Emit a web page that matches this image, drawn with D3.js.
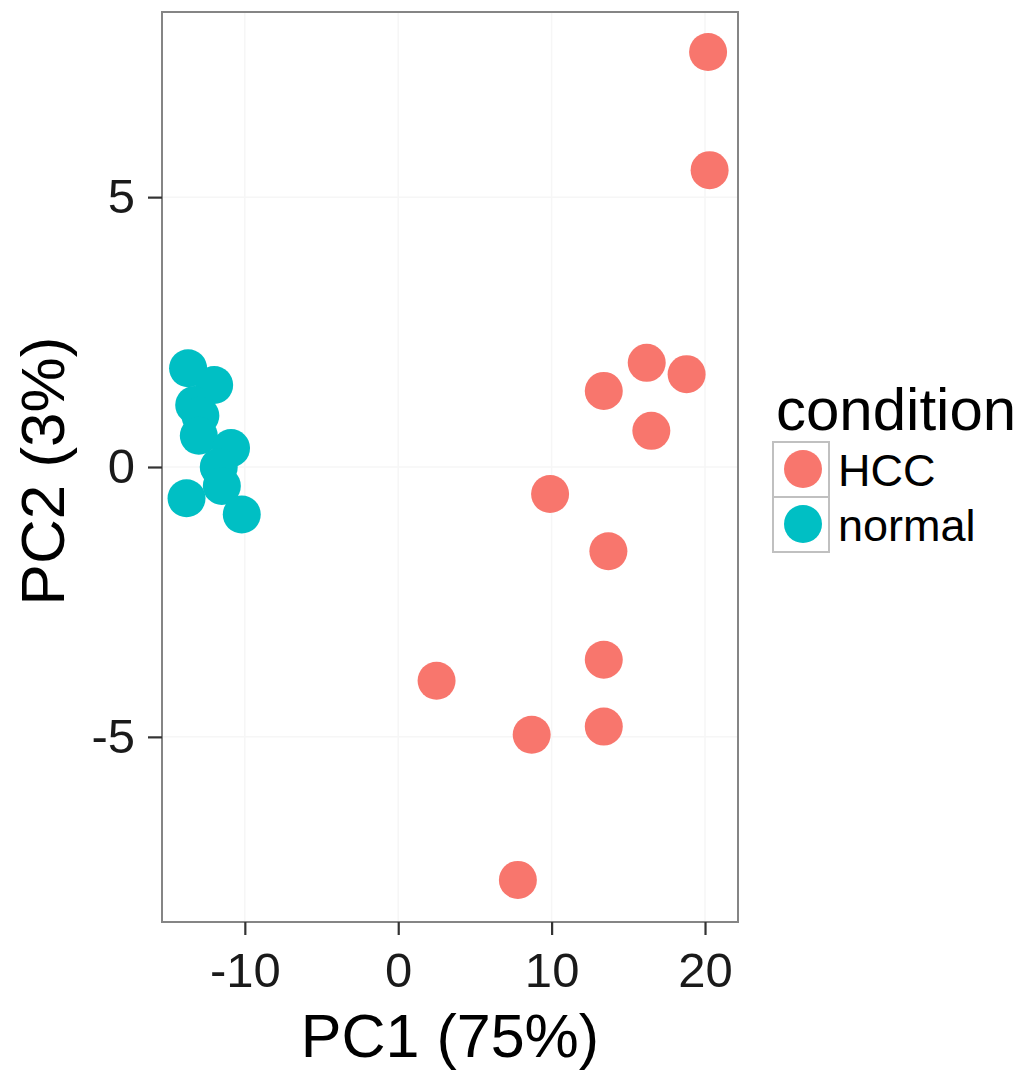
<!DOCTYPE html>
<html><head><meta charset="utf-8">
<script src="https://cdn.jsdelivr.net/npm/d3@7"></script>
<style>body{margin:0;background:#fff;} text{font-family:"Liberation Sans",Arial,Helvetica,sans-serif;}</style>
</head><body>
<svg id="c" width="1023" height="1073"></svg>
<script>
const categories = ["HCC", "normal"];
const colors = ["#F8766D", "#00BFC4"];
const hccPC1 = [20.2, 20.3, 16.2, 18.8, 13.4, 16.5, 9.9, 13.7, 13.4, 2.5, 13.4, 8.7, 7.8];
const hccPC2 = [7.69, 5.5, 1.93, 1.72, 1.41, 0.67, -0.5, -1.56, -3.57, -3.96, -4.81, -4.96, -7.65];
const normalPC1 = [-13.7, -12.0, -13.3, -12.9, -13.0, -10.9, -11.7, -11.5, -13.8, -10.2];
const normalPC2 = [1.83, 1.52, 1.15, 0.95, 0.58, 0.35, 0.0, -0.35, -0.58, -0.88];
const xTicks = [-10, 0, 10, 20];
const yTicks = [-5, 0, 5];
const xLabel = "PC1 (75%)";
const yLabel = "PC2 (3%)";
const legendTitle = "condition";

const svg = d3.select("#c");
const L = 162, R = 738, T = 12, B = 922;
const x = d3.scaleLinear().domain([-15.4, 22.15]).range([L, R]);
const y = d3.scaleLinear().domain([-8.43, 8.43]).range([B, T]);

// grid
const g = svg.append("g");
g.selectAll(".gx").data(xTicks).join("line").attr("x1", d=>x(d)).attr("x2", d=>x(d)).attr("y1", T).attr("y2", B).attr("stroke", "#f6f6f6").attr("stroke-width", 1.5);
g.selectAll(".gy").data(yTicks).join("line").attr("y1", d=>y(d)).attr("y2", d=>y(d)).attr("x1", L).attr("x2", R).attr("stroke", "#f6f6f6").attr("stroke-width", 1.5);

const pts = [];
hccPC1.forEach((v,i)=>pts.push({x:v, y:hccPC2[i], c:0}));
normalPC1.forEach((v,i)=>pts.push({x:v, y:normalPC2[i], c:1}));
svg.append("g").selectAll("circle").data(pts).join("circle")
  .attr("cx", d=>x(d.x)).attr("cy", d=>y(d.y)).attr("r", 19)
  .attr("fill", d=>colors[d.c]);

// panel border
svg.append("rect").attr("x", L).attr("y", T).attr("width", R-L).attr("height", B-T)
  .attr("fill", "none").attr("stroke", "#858585").attr("stroke-width", 2);

// axes
const fmt = d => String(d);
const xa = svg.append("g").attr("transform", `translate(0,${B})`)
  .call(d3.axisBottom(x).tickValues(xTicks).tickSize(13).tickPadding(17).tickFormat(fmt));
const ya = svg.append("g").attr("transform", `translate(${L},0)`)
  .call(d3.axisLeft(y).tickValues(yTicks).tickSize(14).tickPadding(13).tickFormat(fmt));
[xa, ya].forEach(a=>{
  a.select(".domain").remove();
  a.selectAll(".tick line").attr("stroke", "#333").attr("stroke-width", 2.2);
  a.selectAll(".tick text").attr("font-size", 49).attr("fill", "#1a1a1a")
   .style("font-family", '"Liberation Sans",Arial,sans-serif');
});

svg.append("text").attr("x", 450).attr("y", 1057).attr("text-anchor", "middle")
  .attr("font-size", 61).attr("fill", "#000").text(xLabel);
svg.append("text").attr("transform", `translate(64,471) rotate(-90)`).attr("text-anchor", "middle")
  .attr("font-size", 62).attr("fill", "#000").text(yLabel);

// legend
const lg = svg.append("g");
lg.append("text").attr("x", 776).attr("y", 430).attr("font-size", 60).attr("fill", "#000").text(legendTitle);
categories.forEach((c,i)=>{
  const ky = 442 + i*55;
  lg.append("rect").attr("x", 773).attr("y", ky).attr("width", 56).attr("height", 55)
    .attr("fill", "#fff").attr("stroke", "#c0c0c0").attr("stroke-width", 2);
  lg.append("circle").attr("cx", 803).attr("cy", ky+27).attr("r", 19).attr("fill", colors[i]);
  lg.append("text").attr("x", 838).attr("y", ky+44).attr("font-size", 45).attr("fill", "#000").text(c);
});
</script>
</body></html>
